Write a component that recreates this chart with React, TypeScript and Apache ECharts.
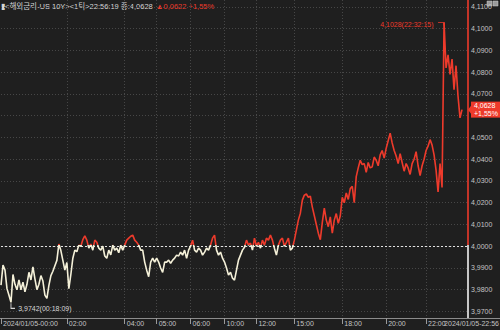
import React, { useEffect, useRef } from "react";
import * as echarts from "echarts";

// ---- data (1-tick series) ----
const prices: number[] = [
  3.9821, 3.9913, 3.9890, 3.9805, 3.9775, 3.9742, 3.9870, 3.9825, 3.9800, 3.9845,
  3.9800, 3.9835, 3.9790, 3.9825, 3.9880, 3.9845, 3.9905, 3.9850, 3.9800, 3.9825,
  3.9865, 3.9840, 3.9775, 3.9760, 3.9820, 3.9865, 3.9885, 3.9910, 3.9935, 4.0010,
  3.9980, 3.9935, 3.9890, 3.9925, 3.9805, 3.9870, 3.9945, 3.9982, 3.9975, 4.0005,
  4.0000, 4.0030, 4.0048, 4.0028, 3.9991, 4.0010, 3.9982, 4.0028, 4.0018, 3.9991,
  3.9982, 4.0000, 3.9955, 3.9945, 3.9982, 3.9960, 4.0005, 3.9982, 3.9991, 3.9970,
  4.0005, 3.9982, 4.0005, 4.0028, 4.0037, 4.0046, 4.0051, 4.0028, 4.0018, 4.0005,
  3.9982, 3.9982, 3.9927, 3.9890, 3.9860, 3.9927, 3.9945, 3.9927, 3.9945, 3.9927,
  3.9900, 3.9880, 3.9927, 3.9927, 3.9936, 3.9922, 3.9936, 3.9945, 3.9959, 3.9955,
  3.9973, 3.9959, 3.9982, 3.9945, 3.9982, 4.0000, 4.0028, 3.9982, 3.9973, 3.9991,
  3.9982, 3.9959, 3.9973, 3.9991, 3.9982, 4.0005, 4.0037, 4.0051, 3.9982, 3.9959,
  3.9973, 3.9945, 3.9927, 3.9900, 3.9867, 3.9880, 3.9853, 3.9844, 3.9890, 3.9936,
  3.9959, 3.9982, 3.9995, 4.0028, 4.0005, 4.0014, 3.9982, 4.0037, 4.0000, 4.0018,
  3.9991, 4.0028, 4.0005, 4.0037, 4.0028, 4.0051, 4.0028, 3.9991, 3.9959, 4.0005,
  4.0028, 4.0037, 4.0000, 4.0018, 4.0037, 3.9982, 3.9991, 4.0028, 4.0074, 4.0120,
  4.0152, 4.0212, 4.0235, 4.0240, 4.0225, 4.0230, 4.0180, 4.0140, 4.0100, 4.0060,
  4.0030, 4.0110, 4.0175, 4.0120, 4.0090, 4.0135, 4.0060, 4.0120, 4.0150, 4.0105,
  4.0140, 4.0225, 4.0200, 4.0245, 4.0215, 4.0265, 4.0275, 4.0200, 4.0320, 4.0360,
  4.0395, 4.0375, 4.0380, 4.0340, 4.0385, 4.0360, 4.0365, 4.0410, 4.0395, 4.0370,
  4.0420, 4.0440, 4.0405, 4.0450, 4.0485, 4.0520, 4.0475, 4.0440, 4.0415, 4.0380,
  4.0425, 4.0385, 4.0345, 4.0380, 4.0360, 4.0330, 4.0380, 4.0400, 4.0435, 4.0370,
  4.0325, 4.0370, 4.0400, 4.0440, 4.0460, 4.0490, 4.0465, 4.0420, 4.0350, 4.0250,
  4.0380, 4.0270, 4.1028, 4.0820, 4.0880, 4.0790, 4.0860, 4.0720, 4.0830, 4.0690,
  4.0590, 4.0628,
];
const EMPTY_SLOTS = 3;

const PREV_CLOSE = 4.0006;
const LAST = 4.0628;
const CHANGE = 0.0622;
const CHANGE_PCT = 1.55;
const LAST_TIME = "22:56:19";
const MAX_TIME = "22:32:15";
const MIN_TIME = "00:18:09";
const TITLE = "<해외금리-US 10Y><1틱>";
const CLOSE_WORD = "종";
const END_LABEL = "2024/01/05-22:56";

const yTicks = [3.97, 3.98, 3.99, 4.0, 4.01, 4.02, 4.03, 4.04, 4.05, 4.06, 4.07, 4.08, 4.09, 4.1, 4.11];
const xTickIndex = [0, 33, 62, 78, 95, 112, 128, 147, 171, 193, 213];
const xTickLabel = ["2024/01/05-00:00", "02:00", "04:00", "05:00", "06:00", "10:00", "12:00", "15:00", "18:00", "20:00", "22:00"];

const Y_MIN = 3.967;
const Y_MAX = 4.1132;

// ---- styles ----
const BG = "#1f1f1f";
const RED = "#ee3a2b";
const CREAM = "#f4f0d8";
const GRID = "#474747";
const TXT = "#c4c4c4";
const FONT = "'Liberation Sans', Arial, sans-serif";
const KFONT = "'Liberation Sans', 'Noto Sans CJK KR', sans-serif";

const fmt = (v: number) => v.toFixed(4).replace(".", ",");
const pct = (v: number) => v.toFixed(2).replace(".", ",");

export default function App() {
  const ref = useRef<HTMLDivElement>(null);

  useEffect(() => {
    document.body.style.margin = "0";
    document.body.style.background = BG;
    const chart = echarts.init(ref.current!, undefined, { renderer: "svg" });

    const data: (number | null)[] = [...prices, ...Array(EMPTY_SLOTS).fill(null)];
    const cats = data.map((_, i) => String(i));
    const lastCat = cats[cats.length - 1];
    const tickSet = new Set(xTickIndex);
    const labelOf = new Map(xTickIndex.map((idx, k) => [idx, xTickLabel[k]]));

    // the price tag covers the tick label that sits right under it (as in the reference)
    const hiddenUnderTag = (v: number) => Math.abs(v - LAST) < 0.005;

    const gridLines: any[] = yTicks.map((v) => ({
      yAxis: v,
      lineStyle: { color: GRID, type: [1, 2], width: 1 },
      label: {
        show: !hiddenUnderTag(v),
        position: "end",
        distance: 3,
        formatter: fmt(v),
        color: TXT,
        fontSize: 7,
        fontFamily: FONT,
      },
    }));
    gridLines.push({
      yAxis: PREV_CLOSE,
      lineStyle: { color: "#e2e2e2", type: [2, 2], width: 1 },
      label: { show: false },
    });

    const option: any = {
      animation: false,
      backgroundColor: BG,
      grid: { left: 0, right: 32, top: 0, bottom: 12 },
      xAxis: {
        type: "category",
        data: cats,
        boundaryGap: false,
        axisLine: { show: false },
        axisTick: {
          show: true,
          interval: (i: number) => tickSet.has(i),
          length: 6,
          lineStyle: { color: "#9a9a9a" },
        },
        axisLabel: {
          interval: (i: number) => tickSet.has(i),
          formatter: (_v: string, i: number) => labelOf.get(i) ?? "",
          align: "left",
          margin: 2,
          padding: [0, 0, 0, 2],
          color: TXT,
          fontSize: 7,
          fontFamily: FONT,
        },
        splitLine: {
          show: true,
          interval: (i: number) => tickSet.has(i) && i > 0,
          lineStyle: { color: GRID, type: [1, 2], width: 1 },
        },
      },
      yAxis: {
        type: "value",
        min: Y_MIN,
        max: Y_MAX,
        position: "right",
        axisLine: { show: false },
        axisTick: { show: false },
        axisLabel: { show: false },
        splitLine: { show: false },
      },
      visualMap: {
        show: false,
        type: "piecewise",
        seriesIndex: 0,
        dimension: 1,
        pieces: [
          { gt: PREV_CLOSE, lte: Y_MAX + 1, color: RED },
          { gte: Y_MIN - 1, lte: PREV_CLOSE, color: CREAM },
        ],
        outOfRange: { color: CREAM },
      },
      series: [
        {
          type: "line",
          data,
          z: 3,
          symbol: "none",
          showSymbol: false,
          lineStyle: { width: 1.6 },
          markLine: {
            silent: true,
            z: 1,
            symbol: ["none", "none"],
            animation: false,
            data: gridLines,
          },
          markPoint: {
            silent: true,
            animation: false,
            data: [
              {
                type: "max",
                symbol: "path://M0,0L6,0L6,3",
                symbolSize: [6, 3],
                symbolOffset: [-3, 1.5],
                itemStyle: { color: "none", borderColor: RED, borderWidth: 1 },
                label: {
                  show: true,
                  position: "left",
                  distance: 1,
                  formatter: (p: any) => `${fmt(p.value)}(${MAX_TIME})`,
                  color: RED,
                  fontSize: 7,
                  fontFamily: FONT,
                },
              },
              {
                type: "min",
                symbol: "path://M0,0L0,5L4,5",
                symbolSize: [4, 5],
                symbolOffset: [2, 3.5],
                itemStyle: { color: "none", borderColor: "#d8d8d8", borderWidth: 1 },
                label: {
                  show: true,
                  position: "right",
                  distance: 1,
                  offset: [0, 2.5],
                  formatter: (p: any) => `${fmt(p.value)}(${MIN_TIME})`,
                  color: "#d8d8d8",
                  fontSize: 7,
                  fontFamily: FONT,
                },
              },
              {
                coord: [lastCat, LAST],
                value: LAST,
                symbol: "path://M0,4L4,0L4,8Z",
                symbolSize: [3, 8],
                symbolOffset: [1.5, 0],
                itemStyle: { color: RED },
                label: {
                  show: true,
                  position: "right",
                  distance: 0,
                  formatter: `${fmt(LAST)}\n+${pct(CHANGE_PCT)}%`,
                  backgroundColor: RED,
                  color: "#ffffff",
                  padding: [1, 4, 0, 3],
                  fontSize: 7,
                  lineHeight: 7.5,
                  fontFamily: FONT,
                },
              },
            ],
          },
        },
        {
          type: "line",
          z: 4,
          silent: true,
          symbol: "none",
          lineStyle: { color: RED, width: 1.6 },
          data: [
            [lastCat, PREV_CLOSE],
            [lastCat, Y_MAX],
          ],
        },
        {
          type: "line",
          z: 4,
          silent: true,
          symbol: "none",
          lineStyle: { color: "#f2f2f2", width: 1.6 },
          data: [
            [lastCat, Y_MIN],
            [lastCat, PREV_CLOSE],
          ],
        },
      ],
      graphic: [
        {
          type: "line",
          silent: true,
          shape: { x1: 0, y1: 318.5, x2: 500, y2: 318.5 },
          style: { stroke: "#8c8c8c", lineWidth: 1 },
        },
        {
          type: "text",
          silent: true,
          x: 1,
          y: 6,
          style: {
            text: `{w|▮${TITLE}${LAST_TIME} ${CLOSE_WORD}:${fmt(LAST)}} {r|▲${fmt(CHANGE)} +${pct(CHANGE_PCT)}%}`,
            verticalAlign: "middle",
            rich: {
              w: { fill: "#d6d6d6", fontSize: 7.5, fontFamily: KFONT },
              r: { fill: RED, fontSize: 7.5, fontFamily: KFONT },
            },
          },
        },
        {
          type: "text",
          silent: true,
          x: 499,
          y: 320,
          style: {
            text: END_LABEL,
            align: "right",
            verticalAlign: "top",
            fill: TXT,
            fontSize: 7,
            fontFamily: FONT,
          },
        },
        {
          type: "rect",
          silent: true,
          shape: { x: 487, y: 1, width: 5, height: 5 },
          style: { fill: "#9a9a9a", stroke: "#cfcfcf", lineWidth: 0.5 },
        },
        {
          type: "rect",
          silent: true,
          shape: { x: 493, y: 1, width: 5, height: 5 },
          style: { fill: "#9a9a9a", stroke: "#cfcfcf", lineWidth: 0.5 },
        },
      ],
    };

    chart.setOption(option);
    return () => chart.dispose();
  }, []);

  return (
    <div
      ref={ref}
      style={{ position: "absolute", left: 0, top: 0, width: 500, height: 330, background: BG }}
    />
  );
}
